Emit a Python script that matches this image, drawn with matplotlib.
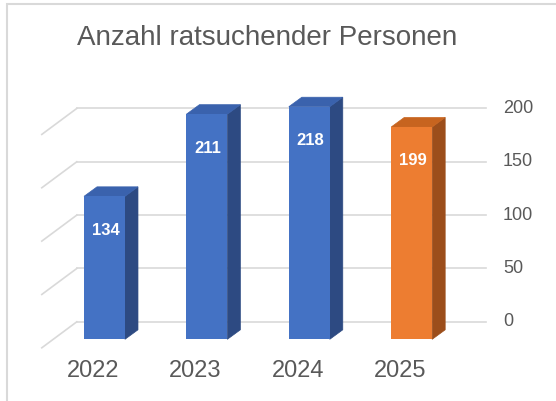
import matplotlib
matplotlib.use("Agg")
import matplotlib.pyplot as plt
import matplotlib.transforms as mtransforms
from matplotlib.patches import Polygon, Rectangle
from matplotlib.lines import Line2D
import numpy as np

plt.rcParams['font.family'] = ['Liberation Sans', 'DejaVu Sans']

# ---- data ----
years = ["2022", "2023", "2024", "2025"]
values = [134, 211, 218, 199]
y_ticks = [0, 50, 100, 150, 200]
title = "Anzahl ratsuchender Personen"

front_colors = ["#4472C4", "#4472C4", "#4472C4", "#ED7D31"]
top_colors = ["#3A62AD", "#3A62AD", "#3A62AD", "#C7641F"]
side_colors = ["#2D4A82", "#2D4A82", "#2D4A82", "#9C4E1B"]

text_gray = "#595959"
grid_gray = "#D9D9D9"

W, H, DPI = 556, 401, 100
fig = plt.figure(figsize=(W / DPI, H / DPI), dpi=DPI)
fig.patch.set_facecolor("white")

# axes = front plane of the bars
ax = fig.add_axes([43.06 / W, 61.7 / H, 450.56 / W, 277.4 / H])
ax.set_xlim(-0.6, 3.8)
ax.set_ylim(0, 260)
ax.axis("off")

x = np.arange(len(years))
bar_w = 0.40

# depth offsets (pixels) relative to bar front plane
bar_depth = (13.0, 9.5)
wall_back = (23.5, 17.5)
wall_front = (-11.5, -8.5)


def disp(xd, yd, off):
    px, py = ax.transData.transform((xd, yd))
    return (px + off[0], py + off[1])


ident = mtransforms.IdentityTransform()

# back-wall gridlines and left side-wall lines
for v in y_ticks:
    p0 = disp(-0.5, v, wall_back)
    p1 = disp(3.5, v, wall_back)
    p2 = disp(-0.5, v, wall_front)
    ax.add_line(Line2D([p0[0], p1[0]], [p0[1], p1[1]], transform=ident,
                       color=grid_gray, lw=1.2, clip_on=False, zorder=1))
    ax.add_line(Line2D([p2[0], p0[0]], [p2[1], p0[1]], transform=ident,
                       color=grid_gray, lw=1.2, clip_on=False, zorder=1))
    ax.text(p1[0] + 16.5, p1[1], str(v), transform=ident, ha="left", va="center",
            fontsize=13, color=text_gray)

# bars: side + top faces, then front faces
for xi, v, tc, sc in zip(x, values, top_colors, side_colors):
    l, r = xi - bar_w / 2, xi + bar_w / 2
    top = [disp(l, v, (0, 0)), disp(r, v, (0, 0)), disp(r, v, bar_depth), disp(l, v, bar_depth)]
    side = [disp(r, 0, (0, 0)), disp(r, v, (0, 0)), disp(r, v, bar_depth), disp(r, 0, bar_depth)]
    ax.add_patch(Polygon(side, closed=True, transform=ident, facecolor=sc,
                         edgecolor=sc, lw=0.5, clip_on=False, zorder=2))
    ax.add_patch(Polygon(top, closed=True, transform=ident, facecolor=tc,
                         edgecolor=tc, lw=0.5, clip_on=False, zorder=2))

bars = ax.bar(x, values, width=bar_w, color=front_colors, zorder=3, clip_on=False)

# value labels
lab_tr = mtransforms.offset_copy(ax.transData, fig=fig, x=1, y=-34, units="dots")
for xi, v in zip(x, values):
    ax.text(xi, v, str(v), transform=lab_tr, ha="center", va="center",
            fontsize=12, fontweight="bold", color="white", zorder=4)

# category labels
cat_tr = mtransforms.offset_copy(ax.transData, fig=fig, x=-11.5, y=-32, units="dots")
for xi, yr in zip(x, years):
    ax.text(xi, 0, yr, transform=cat_tr, ha="center", va="center",
            fontsize=17, color=text_gray)

# title
fig.text(267 / W, 1 - 38 / H, title, ha="center", va="center",
         fontsize=20, color=text_gray)

# chart border (top and left visible)
fig.add_artist(Rectangle((7 / W, -0.1), 1.2, 1 - 4 / H + 0.1, transform=fig.transFigure,
                         fill=False, edgecolor=grid_gray, lw=1.5, clip_on=False))

fig.savefig("out.png", dpi=DPI, facecolor="white")
